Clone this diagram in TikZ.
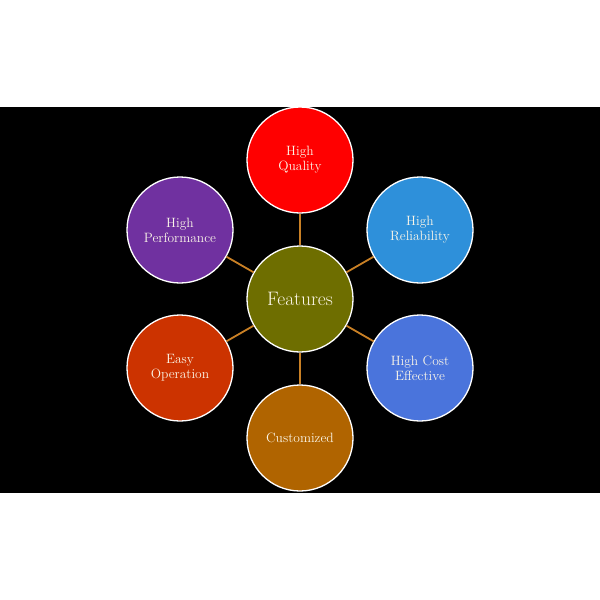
\documentclass[tikz,border=0pt]{standalone}
\usepackage{xcolor}
\definecolor{cred}{HTML}{FF0000}
\definecolor{cpurple}{HTML}{7031A0}
\definecolor{cblue}{HTML}{2E90DA}
\definecolor{csteel}{HTML}{4A74DC}
\definecolor{cbrown}{HTML}{B06400}
\definecolor{corange}{HTML}{CC3300}
\definecolor{colive}{HTML}{6E6E00}
\definecolor{cline}{HTML}{C98025}
\definecolor{ctext}{HTML}{FBF6E8}
\tikzset{
  bubble/.style={circle, draw=white, line width=1.3pt, minimum size=106pt, inner sep=0pt,
    align=center, text=ctext, font=\fontsize{13.5}{15}\selectfont},
  link/.style={draw=cline, line width=1.8pt}
}
\begin{document}
\begin{tikzpicture}[x=1pt,y=-1pt]
\useasboundingbox (0,0) rectangle (600,600);
\fill[white] (0,0) rectangle (600,600);
\fill[black] (0,107) rectangle (600,493);
\node[bubble, fill=colive, font=\fontsize{19.5}{22}\selectfont] (c) at (300,299) {Features};
\node[bubble, fill=cred] (t) at (300,160) {High\\Quality};
\node[bubble, fill=cblue] (ur) at (420,230) {High\\Reliability};
\node[bubble, fill=csteel] (lr) at (420,368) {High Cost\\Effective};
\node[bubble, fill=cbrown] (b) at (300,438) {Customized};
\node[bubble, fill=corange] (ll) at (180,368) {Easy\\Operation};
\node[bubble, fill=cpurple] (ul) at (180,230) {High\\Performance};
\foreach \n in {t,ur,lr,b,ll,ul} {\draw[link] (c) -- (\n);}
\end{tikzpicture}
\end{document}
